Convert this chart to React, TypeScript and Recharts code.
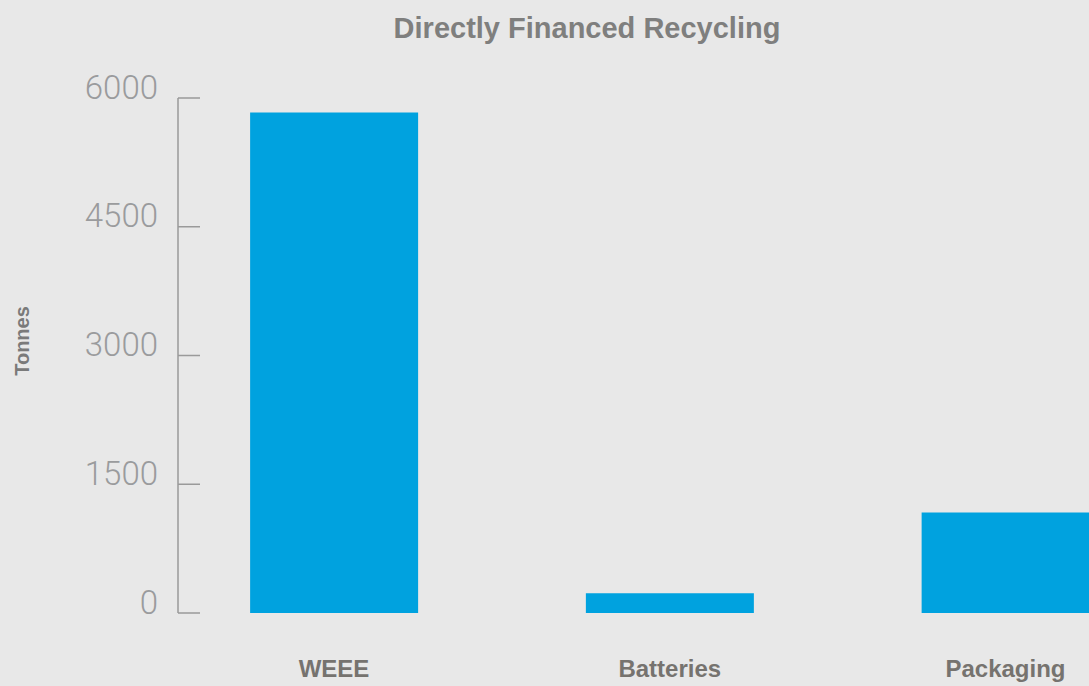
import React from 'react';
import { BarChart, Bar, XAxis, YAxis } from 'recharts';

const CATEGORIES = ['WEEE', 'Batteries', 'Packaging'];
const TONNES = [5830, 230, 1170];
const Y_TICKS = [0, 1500, 3000, 4500, 6000];

const data = CATEGORIES.map((name, idx) => ({ idx, name, tonnes: TONNES[idx] }));

// Light tick label sits above its inward tick mark
const YTick = (props: any) => {
  const { x, y, payload } = props;
  return (
    <g>
      <line x1={x} y1={y} x2={x + 22} y2={y} stroke="#9a9a9a" strokeWidth={1.5} />
      <text
        x={x - 20}
        y={y - 11}
        textAnchor="end"
        dominantBaseline="central"
        fontFamily="Roboto"
        fontWeight={300}
        fontSize={33}
        fill="#9a9b9d"
      >
        {payload.value}
      </text>
    </g>
  );
};

const XTick = (props: any) => {
  const { x, y, payload } = props;
  return (
    <text
      x={x}
      y={y + 47}
      textAnchor="middle"
      dominantBaseline="central"
      fontFamily="Liberation Sans"
      fontWeight={700}
      fontSize={24}
      fill="#76736f"
    >
      {CATEGORIES[payload.value]}
    </text>
  );
};

export default function App() {
  return (
    <div
      style={{
        position: 'fixed',
        left: 0,
        top: 0,
        width: 1089,
        height: 686,
        overflow: 'hidden',
        background: '#e8e8e8',
      }}
    >
      <div
        style={{
          position: 'absolute',
          left: 337,
          width: 500,
          top: 12,
          textAlign: 'center',
          fontFamily: 'Liberation Sans',
          fontWeight: 700,
          fontSize: 29,
          color: '#7f7f7e',
        }}
      >
        Directly Financed Recycling
      </div>
      <div
        style={{
          position: 'absolute',
          left: 22,
          top: 341,
          transform: 'translate(-50%, -50%) rotate(-90deg)',
          fontFamily: 'Liberation Sans',
          fontWeight: 700,
          fontSize: 20,
          color: '#7a7a7a',
          whiteSpace: 'nowrap',
        }}
      >
        Tonnes
      </div>
      <BarChart width={1089} height={686} data={data} margin={{ top: 98, right: 0, bottom: 0, left: 0 }}>
        <XAxis
          type="number"
          dataKey="idx"
          domain={[-0.4646, 2.2487]}
          ticks={[0, 1, 2]}
          allowDataOverflow
          axisLine={false}
          tickLine={false}
          height={73}
          tick={<XTick />}
        />
        <YAxis
          domain={[0, 6000]}
          ticks={Y_TICKS}
          width={178}
          axisLine={{ stroke: '#9a9a9a', strokeWidth: 1.5 }}
          tickLine={false}
          tickSize={0}
          tickMargin={0}
          tick={<YTick />}
        />
        <Bar dataKey="tonnes" fill="#00a2df" barSize={168} isAnimationActive={false} />
      </BarChart>
    </div>
  );
}
